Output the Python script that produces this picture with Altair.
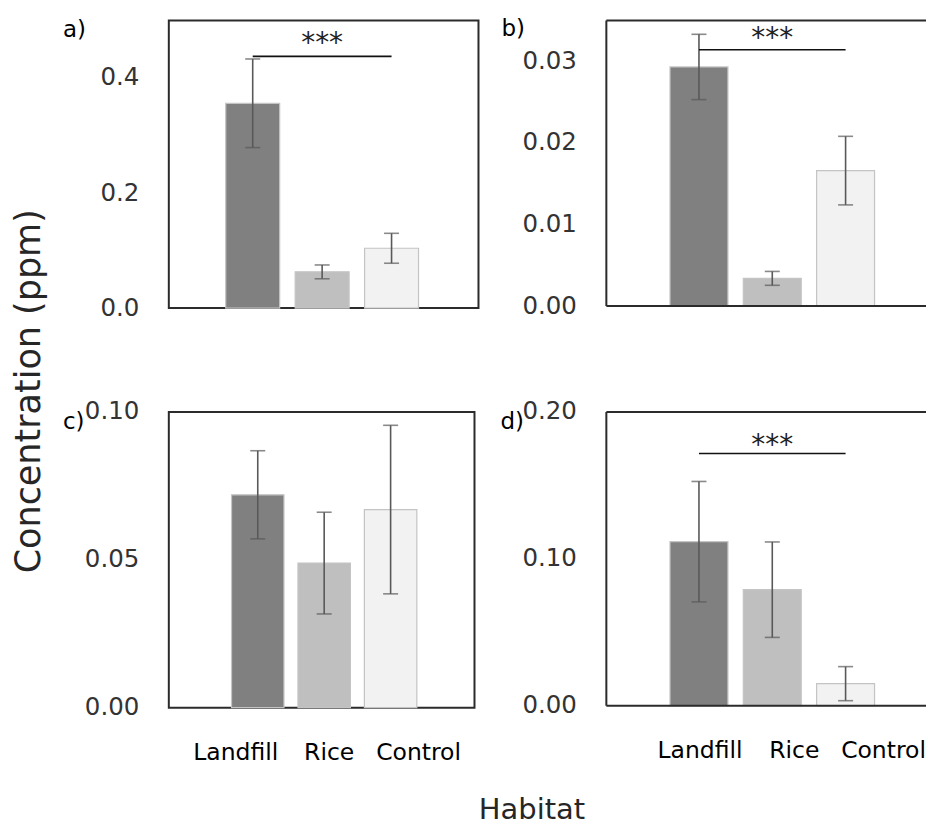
import altair as alt
import pandas as pd

habitats = ["Landfill", "Rice", "Control"]
bar_colors = ["#808080", "#bfbfbf", "#f2f2f2"]

a_mean = [0.356, 0.063, 0.104]
a_err = [0.077, 0.012, 0.026]
b_mean = [0.0293, 0.0034, 0.0166]
b_err = [0.0040, 0.00085, 0.0042]
c_mean = [0.0720, 0.0489, 0.0670]
c_err = [0.0149, 0.0172, 0.0285]
d_mean = [0.1117, 0.0790, 0.0150]
d_err = [0.0410, 0.0325, 0.0116]

# significance bracket (line level, star level) per panel
a_sig = [0.4375, 0.470]
b_sig = [0.0314, 0.0334]
d_sig = [0.1717, 0.1810]

FONT = "DejaVu Sans"
FRAME = "#2b2b2b"
ERR = "#595959"


def panel(mean, err, ymax, ticks, fmt, width, height, po, pi, align,
          tag, tag_dx, tag_dy, sig=None, xlabels=False, label_offsets=None, frame=True):
    df = pd.DataFrame({
        "habitat": habitats,
        "mean": mean,
        "low": [m - e for m, e in zip(mean, err)],
        "high": [m + e for m, e in zip(mean, err)],
    })
    xscale = alt.Scale(domain=habitats, paddingInner=pi, paddingOuter=po, align=align)
    if xlabels:
        cond = {"condition": [
            {"test": "datum.value === 'Landfill'", "value": label_offsets[0]},
            {"test": "datum.value === 'Rice'", "value": label_offsets[1]},
        ], "value": label_offsets[2]}
        xaxis = alt.Axis(title=None, ticks=False, tickSize=0, domain=False, labelAngle=0,
                         labelFont=FONT, labelFontSize=23.5, labelColor="#000000",
                         labelPadding=33, labelOffset=cond)
    else:
        xaxis = None
    yaxis = alt.Axis(values=ticks, format=fmt, title=None, grid=False, ticks=False,
                     tickSize=0, domain=False,
                     labelFont=FONT, labelFontSize=24.5, labelColor="#333333",
                     labelPadding=30)
    yscale = alt.Scale(domain=[0, ymax], nice=False, zero=True)
    base = alt.Chart(df)
    bars = base.mark_bar(stroke="#c4c4c4", strokeWidth=1.2).encode(
        x=alt.X("habitat:N", scale=xscale, axis=xaxis, sort=habitats),
        y=alt.Y("mean:Q", scale=yscale, axis=yaxis),
        color=alt.Color("habitat:N", scale=alt.Scale(domain=habitats, range=bar_colors), legend=None),
    )
    rule = base.mark_rule(color=ERR, strokeWidth=1.6).encode(
        x=alt.X("habitat:N", scale=xscale, sort=habitats),
        y=alt.Y("low:Q", scale=yscale), y2="high:Q")
    cap_lo = base.mark_tick(color=ERR, thickness=1.6, size=15).encode(
        x=alt.X("habitat:N", scale=xscale, sort=habitats),
        y=alt.Y("low:Q", scale=yscale))
    cap_hi = base.mark_tick(color=ERR, thickness=1.6, size=15).encode(
        x=alt.X("habitat:N", scale=xscale, sort=habitats),
        y=alt.Y("high:Q", scale=yscale))
    layers = [bars, rule, cap_lo, cap_hi]
    if sig is not None:
        sdf = pd.DataFrame({"start": [habitats[0]], "end": [habitats[2]], "mid": [habitats[1]],
                            "line": [sig[0]], "star": [sig[1]], "txt": ["***"]})
        sbase = alt.Chart(sdf)
        layers.append(sbase.mark_rule(color="#111111", strokeWidth=1.6).encode(
            x=alt.X("start:N", scale=xscale), x2="end:N", y=alt.Y("line:Q", scale=yscale)))
        layers.append(sbase.mark_text(font=FONT, fontSize=28, color="#222222",
                                      baseline="middle", dy=6).encode(
            x=alt.X("mid:N", scale=xscale), y=alt.Y("star:Q", scale=yscale), text="txt:N"))
    if not frame:
        edges = pd.DataFrame({"top": [ymax], "bottom": [0]})
        eb = alt.Chart(edges)
        layers.append(eb.mark_rule(color=FRAME, strokeWidth=2).encode(
            y=alt.Y("top:Q", scale=yscale)))
        layers.append(eb.mark_rule(color=FRAME, strokeWidth=2).encode(
            y=alt.Y("bottom:Q", scale=yscale)))
        layers.append(eb.mark_rule(color=FRAME, strokeWidth=2).encode(
            x=alt.value(0)))
    ch = alt.layer(*layers).properties(
        width=width, height=height,
        title=alt.TitleParams(tag, anchor="start", orient="top", frame="group", dx=tag_dx,
                              dy=tag_dy, offset=0, baseline="middle", font=FONT, fontSize=23,
                              fontWeight="normal", color="#000000"),
    )
    if not frame:
        ch = ch.properties(view=alt.ViewBackground(stroke="transparent"))
    return ch


pa = panel(a_mean, a_err, 0.5, [0, 0.2, 0.4], ".1f", 310, 288, 0.8417, 0.223, 0.487,
           "a)", -106, 33, sig=a_sig)
pb = panel(b_mean, b_err, 0.035, [0, 0.01, 0.02, 0.03], ".2f", 320, 286, 0.785, 0.21, 0.553,
           "b)", -105, 33, sig=b_sig, frame=False)
pc = panel(c_mean, c_err, 0.1, [0, 0.05, 0.1], ".2f", 306, 296, 0.906, 0.2105, 0.521,
           "c)", -106, 46, xlabels=True, label_offsets=[-22, 5, 28])
pd_ = panel(d_mean, d_err, 0.2, [0, 0.1, 0.2], ".2f", 320, 294, 0.785, 0.21, 0.553,
            "d)", -106, 46, sig=d_sig, xlabels=True, label_offsets=[1, 22, 38], frame=False)

row1 = alt.hconcat(pa, pb, spacing=128, bounds="flush")
row2 = alt.hconcat(pc, pd_, spacing=132, bounds="flush")

body = alt.vconcat(row1, row2, spacing=77, bounds="full").properties(
    title=alt.TitleParams("Concentration (ppm)", orient="left", anchor="middle",
                          font=FONT, fontSize=35, fontWeight="normal", color="#262626",
                          offset=15))

chart = alt.vconcat(body).properties(
    title=alt.TitleParams("Habitat", orient="bottom", anchor="middle", font=FONT,
                          fontSize=29, fontWeight="normal", color="#262626", offset=31, dx=62),
    padding={"left": 11, "top": 17, "right": 0, "bottom": 0},
).configure_view(stroke=FRAME, strokeWidth=2)

chart.save("out.html", embed_options={"renderer": "svg", "actions": False})
